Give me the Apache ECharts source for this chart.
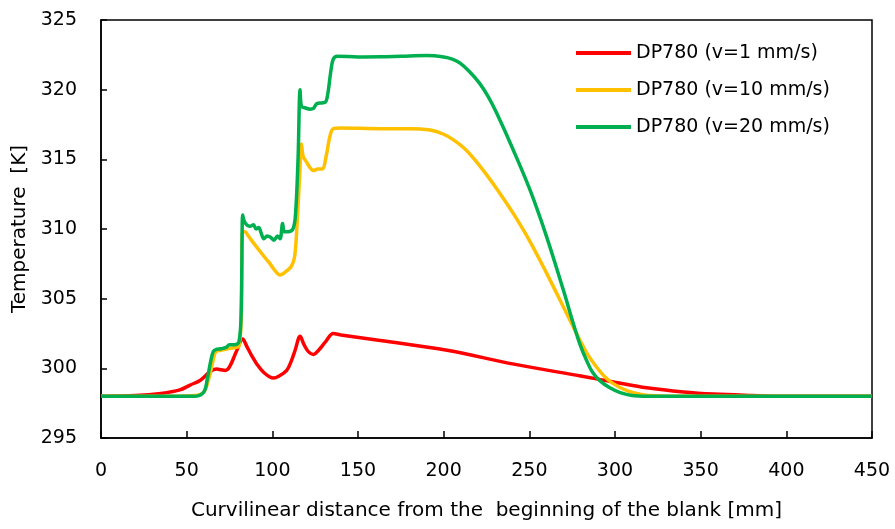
<!DOCTYPE html>
<html>
<head>
<meta charset="utf-8">
<script src="https://cdn.jsdelivr.net/npm/echarts@6/dist/echarts.min.js"></script>
<style>
  html, body { margin: 0; padding: 0; background: #fff; }
  #chart { width: 895px; height: 529px; }
</style>
</head>
<body>
<div id="chart"></div>
<script>
// axis ticks
let xTicks = [0, 50, 100, 150, 200, 250, 300, 350, 400, 450];
let yTicks = [295, 300, 305, 310, 315, 320, 325];

// series names
let seriesNames = ['DP780 (v=1 mm/s)', 'DP780 (v=10 mm/s)', 'DP780 (v=20 mm/s)'];

// v=1 mm/s
let redX = [0, 20, 35, 46, 52, 58, 63.6, 67.5, 70, 72.5, 75, 79, 82.7, 85, 88, 91, 95, 100.6, 104, 108.4,
  111, 113.3, 116.2, 118.5, 121, 124, 127, 131, 135.6, 140, 163, 202, 241, 280, 300, 318.5, 340, 357.5, 380, 396, 450];
let redY = [298, 298.05, 298.2, 298.45, 298.8, 299.15, 299.75, 299.95, 299.9, 299.85, 300.1, 301.2, 302.1, 301.6, 300.9, 300.3, 299.7, 299.3, 299.45, 299.85,
  300.5, 301.3, 302.3, 301.7, 301.2, 301.0, 301.3, 301.9, 302.5, 302.4, 302.0, 301.3, 300.3, 299.45, 299.0, 298.6, 298.3, 298.15, 298.05, 298.0, 298];

// v=10 mm/s
let yellowX = [0, 40, 55, 60, 63, 65.5, 67, 70, 74, 78, 80.5, 81.8, 82.7, 84, 86, 89, 92.8, 96, 98.7, 101, 104.5, 106.5, 108.4,
  111, 113, 114.5, 116, 117, 118, 120, 122, 124, 126.5, 129, 131.7, 133.5, 135.6, 140, 163, 180, 192, 200, 205.7, 212, 218,
  225, 232, 240.7, 250.4, 260.2, 269.9, 279.6, 284, 289.4, 294, 299, 305, 310.7, 320, 335, 450];
let yellowY = [298, 298, 298.05, 298.3, 299.3, 300.6, 301.2, 301.3, 301.4, 301.5, 301.6, 303.5, 309.8, 309.8, 309.5, 309.0, 308.4, 307.9, 307.5, 307.1, 306.7, 306.8, 307.0,
  307.3, 308.0, 310.5, 314, 316.1, 315.2, 314.8, 314.4, 314.2, 314.3, 314.3, 315.4, 316.6, 317.2, 317.25, 317.2, 317.2, 317.1, 316.8, 316.4, 315.8, 315.0,
  313.9, 312.7, 311.1, 309.1, 306.8, 304.4, 302, 301.0, 300.06, 299.4, 298.9, 298.5, 298.26, 298.05, 298, 298];

// v=20 mm/s
let greenX = [0, 40, 55, 60, 62, 64, 65.5, 67, 70, 73, 75, 78, 80.5, 81.8, 82.7, 83.5, 85, 87, 89, 90.5, 92, 93.5, 95, 97, 99,
  101, 103, 104.5, 106, 107, 109, 112, 113.5, 115, 116.2, 117, 119, 122, 124, 126, 129, 131, 132.5, 134, 135.6, 138, 150,
  163, 175, 190, 200, 205, 209.6, 215, 221, 226, 231, 240.7, 250.4, 260.2, 269.9, 275.7, 279.6, 283.5, 287, 291.3, 297,
  303, 310, 318.5, 450];
let greenY = [298, 298, 298.0, 298.3, 299.2, 300.5, 301.2, 301.35, 301.4, 301.5, 301.7, 301.7, 301.9, 304, 311.0, 310.6, 310.3, 310.2, 310.3, 310.0, 310.1, 309.7, 309.3, 309.5, 309.4,
  309.2, 309.5, 309.3, 310.4, 309.8, 309.8, 310.0, 311, 315, 320.0, 318.8, 318.7, 318.6, 318.65, 319.0, 319.05, 319.1, 319.8, 321.2, 322.2, 322.4, 322.35,
  322.36, 322.4, 322.45, 322.35, 322.2, 321.9, 321.3, 320.45, 319.5, 318.3, 315.65, 312.8, 309.4, 305.6, 303.2, 301.7, 300.54, 299.7, 299.1, 298.6,
  298.26, 298.05, 298.0, 298.0];

let colors = ['#FF0000', '#FFC000', '#00B050'];
let fontName = 'DejaVu Sans';

function zip(xs, ys) {
  let out = [];
  for (let i = 0; i < xs.length; i++) {
    out.push([xs[i], ys[i]]);
  }
  return out;
}

let allData = [zip(redX, redY), zip(yellowX, yellowY), zip(greenX, greenY)];

let myChart = echarts.init(document.getElementById('chart'), null, { renderer: 'canvas' });

let series = [];
for (let i = 0; i < seriesNames.length; i++) {
  series.push({
    name: seriesNames[i],
    type: 'line',
    data: allData[i],
    showSymbol: false,
    symbol: 'none',
    smooth: 0.35,
    lineStyle: { color: colors[i], width: 3.5 },
    itemStyle: { color: colors[i] },
    animation: false,
  });
}

let option = {
  backgroundColor: '#fff',
  animation: false,
  grid: {
    left: 101, right: 23, top: 20, bottom: 91,
    show: true, borderColor: '#000', borderWidth: 1.5,
  },
  legend: {
    orient: 'vertical',
    left: 576,
    top: 42,
    padding: 0,
    icon: 'rect',
    itemWidth: 55,
    itemHeight: 4,
    itemGap: 15,
    textStyle: { fontFamily: fontName, fontSize: 19, lineHeight: 22, color: '#000' },
    data: seriesNames,
  },
  xAxis: {
    type: 'value',
    min: 0, max: 450, interval: 50,
    name: 'Curvilinear distance from the  beginning of the blank [mm]',
    nameLocation: 'middle',
    nameGap: 63,
    nameTextStyle: { fontFamily: fontName, fontSize: 20, color: '#000' },
    axisLine: { show: true, lineStyle: { color: '#000', width: 1.5 } },
    axisTick: { show: true, inside: true, length: 7, lineStyle: { color: '#000', width: 1.5 } },
    axisLabel: { fontFamily: fontName, fontSize: 19, color: '#000', margin: 24 },
    splitLine: { show: false },
  },
  yAxis: {
    type: 'value',
    min: 295, max: 325, interval: 5,
    name: 'Temperature  [K]',
    nameLocation: 'middle',
    nameGap: 66,
    nameTextStyle: { fontFamily: fontName, fontSize: 20, color: '#000' },
    axisLine: { show: true, lineStyle: { color: '#000', width: 1.5 } },
    axisTick: { show: true, inside: true, length: 6, lineStyle: { color: '#000', width: 1.5 } },
    axisLabel: { fontFamily: fontName, fontSize: 19, color: '#000', margin: 24 },
    splitLine: { show: false },
  },
  series: series,
};

myChart.setOption(option);
</script>
</body>
</html>
